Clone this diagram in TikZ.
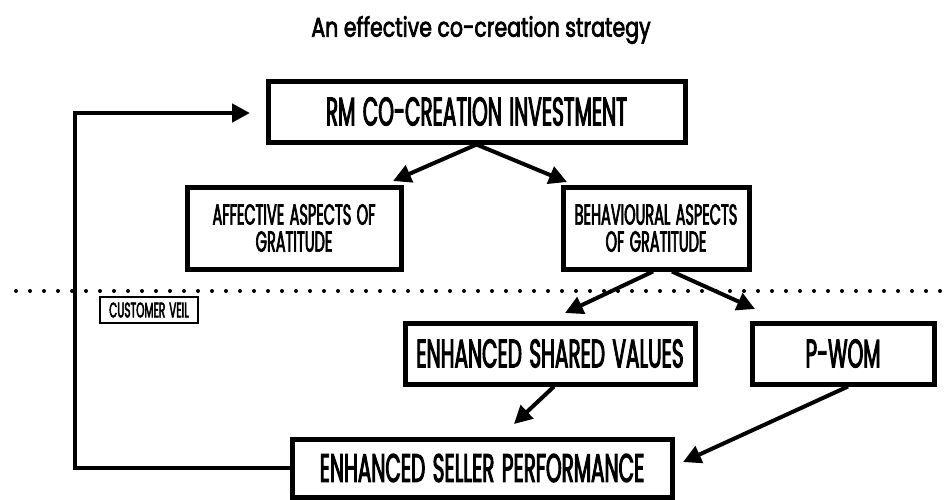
\documentclass[tikz,border=0pt]{standalone}
\usepackage{fontspec}
\setmainfont{Poppins}[FakeStretch=0.5,FakeBold=2.4,WordSpace=1.4]
\newfontfamily\titlefont{Poppins}[FakeStretch=0.76,FakeBold=2.6]
\usetikzlibrary{arrows.meta}
\tikzset{every path/.style={line width=4pt}}
\tikzset{box/.style={draw,line width=5pt,align=center,inner sep=0pt,font=\fontsize{40}{40}\selectfont}}
\tikzset{smallbox/.style={box,font=\fontsize{29}{27}\selectfont}}
\tikzset{arr/.style={-{Triangle[length=18pt,width=18pt]}}}

\begin{document}
\begin{tikzpicture}[x=1pt,y=-1pt]
\useasboundingbox (0,0) rectangle (944,499);
\node (title) at (481,30) {\titlefont\fontsize{27}{30}\selectfont An effective co-creation strategy};
\node[box,minimum width=417,minimum height=61] (rm) at (476.5,111.5) {RM CO-CREATION INVESTMENT};
\node[smallbox,minimum width=214,minimum height=82] (aff) at (294,228) {AFFECTIVE ASPECTS OF\\GRATITUDE};
\node[smallbox,minimum width=186,minimum height=82] (beh) at (656,228) {BEHAVIOURAL ASPECTS\\OF GRATITUDE};
\node[draw,line width=2pt,minimum width=98,minimum height=26,font=\fontsize{21}{20}\selectfont] (veil) at (149,310) {CUSTOMER VEIL};
\node[box,minimum width=290,minimum height=61] (esv) at (550,353.5) {ENHANCED SHARED VALUES};
\node[box,minimum width=182,minimum height=61] (pwom) at (843,353.5) {P-WOM};
\node[box,minimum width=380,minimum height=58] (esp) at (482,468) {ENHANCED SELLER PERFORMANCE};
\draw[line cap=round,dash pattern=on 0pt off 14pt] (16,291) -- (944,291);
\coordinate (affin) at (393,181);
\coordinate (behin) at (567,182);
\coordinate (esvin) at (565,313);
\coordinate (pwomin) at (755,309);
\coordinate (espin1) at (514,424);
\coordinate (espin2) at (683,462);
\coordinate (back) at (75,113);
\coordinate (rmin) at (250,113);
\draw[arr] (rm.south) -- (affin);
\draw[arr] (rm.south) -- (behin);
\draw[arr] ([xshift=-3pt]beh.south) -- (esvin);
\draw[arr] ([xshift=16pt]beh.south) -- (pwomin);
\draw[arr] ([xshift=4pt]esv.south) -- (espin1);
\draw[arr] ([xshift=5pt]pwom.south) -- (espin2);
\draw[arr,line width=4.5pt] (esp.west) -| (back) -- (rmin);
\end{tikzpicture}
\end{document}
